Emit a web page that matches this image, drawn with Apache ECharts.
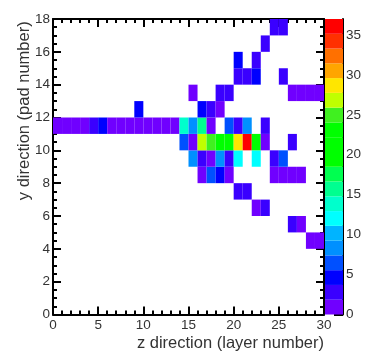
<!DOCTYPE html>
<html><head><meta charset="utf-8">
<style>html,body{margin:0;padding:0;background:#fff}#c{width:374px;height:358px}</style>
<script src="https://cdn.jsdelivr.net/npm/echarts@6/dist/echarts.min.js"></script>
</head><body><div id="c"></div>
<script>
const xTicks = [0,5,10,15,20,25,30];
const yTicks = [0,2,4,6,8,10,12,14,16,18];
const zTicks = [0,5,10,15,20,25,30,35];
const zMax = 37;
const xTitle = 'z direction (layer number)';
const yTitle = 'y direction (pad number)';
// [z layer, value] per pad row
const pad4  = [[28,1],[29,1]];
const pad5  = [[26,3],[27,1]];
const pad6  = [[22,1],[23,3]];
const pad7  = [[20,3],[21,3]];
const pad8  = [[16,1],[17,6],[18,4],[19,1],[24,1],[25,1],[26,1],[27,1]];
const pad9  = [[15,9],[16,3],[17,1.5],[18,9],[19,3],[20,12],[22,12],[24,3],[25,6]];
const pad10 = [[14,6],[15,1.5],[16,27],[17,25],[18,21],[19,21],[20,29],[21,36],[22,21],[23,1.5],[26,3]];
const pad11 = [[0,1],[1,1],[2,1],[3,1],[4,3],[5,4],[6,1],[7,1],[8,1],[9,1],[10,1],[11,1],[12,1],[13,1],[14,13],[15,8.5],[16,16],[17,1.5],[19,6],[20,3],[21,8.5],[23,3]];
const pad12 = [[9,4],[16,5],[17,3],[18,1.5]];
const pad13 = [[15,1],[18,2],[19,2],[26,1],[27,1],[28,1],[29,1]];
const pad14 = [[20,3],[21,3],[22,4],[25,3]];
const pad15 = [[20,4],[22,3]];
const pad16 = [[23,3]];
const pad17 = [[24,3],[25,3]];
const padRows = {4:pad4,5:pad5,6:pad6,7:pad7,8:pad8,9:pad9,10:pad10,11:pad11,12:pad12,13:pad13,14:pad14,15:pad15,16:pad16,17:pad17};
const palette = ['#7000ff','#3a00ff','#0000ff','#0050ff','#0090ff','#00b4ff','#00ffff','#00ffcc','#00ff90','#00ff50','#00ff00','#00ff00','#00ff00','#40f020','#c0ff00','#ffe600','#ffa500','#ff7000','#ff3000','#ff0000'];

const colorOf = v => palette[Math.min(palette.length-1, Math.floor(v/zMax*palette.length))];
const cells = [];
Object.keys(padRows).forEach(p => padRows[p].forEach(c => cells.push([c[0], +p, c[1]])));
const bands = palette.map((col,i)=>[i*zMax/palette.length,(i+1)*zMax/palette.length,col]);

const FONT='"Liberation Sans"', TXT='#333', LW=2;
const line={onZero:false,lineStyle:{color:'#000',width:LW}};
const tick={inside:true,length:8,lineStyle:{color:'#000',width:LW}};
const minor=n=>({show:true,splitNumber:n,length:4,lineStyle:{color:'#000',width:LW}});
const lbl={fontFamily:FONT,fontSize:13.5,color:TXT};
const common={splitLine:{show:false},minorSplitLine:{show:false}};

const chart=echarts.init(document.getElementById('c'),null,{renderer:'canvas'});
chart.setOption({
  animation:false,backgroundColor:'#fff',
  grid:[
    {left:53,top:19,width:271,height:295.5,show:false,outerBoundsMode:'none'},
    {left:325,top:19,width:18,height:295.5,show:false,outerBoundsMode:'none'}
  ],
  xAxis:[
    {gridIndex:0,type:'value',min:0,max:30,interval:5,position:'bottom',...common,axisLine:line,axisTick:tick,minorTick:minor(5),
     axisLabel:{...lbl,margin:4},name:xTitle,nameLocation:'end',nameGap:0,
     nameTextStyle:{fontFamily:FONT,fontSize:16.5,color:TXT,align:'right',verticalAlign:'top',padding:[20,0,0,0]}},
    {gridIndex:0,type:'value',min:0,max:30,interval:5,position:'top',...common,axisLine:line,axisTick:tick,minorTick:minor(5),axisLabel:{show:false}},
    {gridIndex:1,type:'value',min:0,max:1,show:false}
  ],
  yAxis:[
    {gridIndex:0,type:'value',min:0,max:18,interval:2,position:'left',...common,axisLine:line,axisTick:tick,minorTick:minor(4),
     axisLabel:{...lbl,margin:3},name:yTitle,nameLocation:'middle',nameGap:20,nameRotate:90,nameMoveOverlap:false,
     nameTextStyle:{fontFamily:FONT,fontSize:16.5,color:TXT,padding:[0,0,0,112]}},
    {gridIndex:0,type:'value',min:0,max:18,interval:2,position:'right',...common,axisLine:line,axisTick:tick,minorTick:minor(4),axisLabel:{show:false}},
    {gridIndex:1,type:'value',min:0,max:zMax,position:'right',...common,axisLine:line,
     axisTick:{inside:true,length:9,customValues:zTicks,lineStyle:{color:'#000',width:LW}},
     axisLabel:{...lbl,margin:3,customValues:zTicks}}
  ],
  series:[
    {type:'custom',xAxisIndex:0,yAxisIndex:0,data:cells,encode:{x:0,y:1},z:1,
     renderItem(p,api){
       const a=api.coord([api.value(0),api.value(1)+1]),b=api.coord([api.value(0)+1,api.value(1)]);
       return {type:'rect',shape:{x:a[0],y:a[1],width:b[0]-a[0],height:b[1]-a[1]},style:{fill:colorOf(api.value(2))}};
     }},
    {type:'custom',xAxisIndex:2,yAxisIndex:2,data:bands,encode:{y:[0,1]},z:1,
     renderItem(p,api){
       const a=api.coord([0,api.value(1)]),b=api.coord([1,api.value(0)]);
       return {type:'rect',shape:{x:a[0],y:a[1],width:b[0]-a[0],height:b[1]-a[1]},style:{fill:bands[p.dataIndex][2]}};
     }}
  ]
});
</script></body></html>
